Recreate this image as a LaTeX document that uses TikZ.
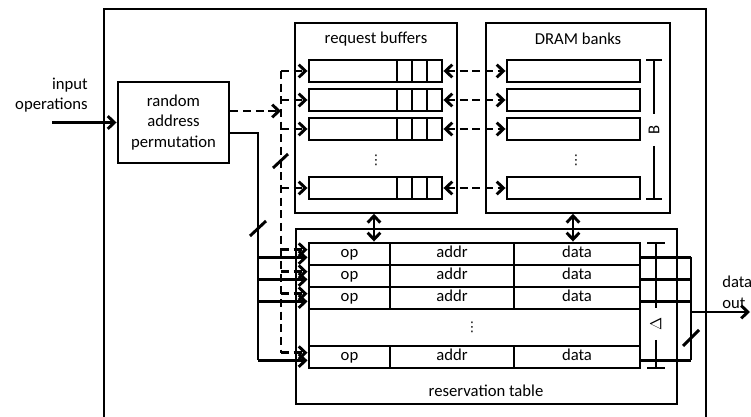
\documentclass[tikz,border=0pt]{standalone}
\usepackage{fontspec}
\setmainfont{Carlito}
\newfontfamily\symfont{DejaVu Sans}
\usetikzlibrary{arrows.meta,fit}

\begin{document}
\begin{tikzpicture}[x=0.75pt,y=-0.75pt,
  thinline/.style={line width=1.2pt},
  heavy/.style={line width=2.2pt},
  box/.style={draw, thinline, inner sep=0pt},
  cellbox/.style={draw, heavy, inner sep=0pt},
  txt/.style={font=\fontsize{12.5}{15.5}\selectfont, inner sep=0pt},
  dots/.style={font=\symfont\fontsize{10}{12}\selectfont, inner sep=0pt},
  celltxt/.style={txt, text height=8.5pt, text depth=2.5pt},
  tip/.tip={Straight Barb[length=5pt,width=9.5pt]},
  arr/.style={heavy, -tip},
  darr/.style={heavy, -tip, dash pattern=on 6pt off 3.5pt},
  ddarr/.style={heavy, tip-tip, dash pattern=on 6pt off 3.5pt},
  biarr/.style={heavy, tip-tip},
  slash/.style={heavy},
]
\useasboundingbox (0,0) rectangle (751,417);

% frame of the whole system (open at the bottom of the page)
\node[box, fit={(104,9)(706,440)}] (outer) {};

% input stage
\node[cellbox, fit={(118,82)(229,163)}] (perm) {};
\node[txt, align=center] at (perm.center) {random\\address\\permutation};
\node[txt, align=right, anchor=east] (inlabel) at (88,95) {input\\operations};
\coordinate (in) at (52,122.5);
\draw[arr] (in) -- (perm.west);

% containers
\node[box, fit={(295,23)(457,213)}] (rb) {};
\node[box, fit={(486,23)(670,213)}] (dram) {};
\node[box, fit={(296,229)(677,404)}] (rt) {};
\node[txt] at (376,39) {request buffers};
\node[txt] at (578,39) {DRAM banks};
\node[txt] at (486,391) {reservation table};

% request buffers and DRAM banks
\foreach \i/\yc in {1/71,2/100,3/129,4/188} {
  \node[cellbox, fit={(309,\yc-11)(442,\yc+11)}] (buf\i) {};
  \foreach \x in {397,412,427}
    \draw[heavy] (\x,\yc-11) -- (\x,\yc+11);
  \node[cellbox, fit={(507,\yc-11)(640,\yc+11)}] (bank\i) {};
  \draw[ddarr] (buf\i.east) -- (bank\i.west);
}
\node[dots] at (376,160) {⋮};
\node[dots] at (576,160) {⋮};

% bracket for the bank count
\draw[heavy] (654,60) -- (654,114) (654,146) -- (654,199)
  (646,60) -- (662,60) (646,199) -- (662,199);
\node[txt, rotate=90] at (654,130) {B};

% reservation table
\node[cellbox, fit={(309,243)(640,368)}] (tab) {};
\foreach \i/\ya/\yb in {1/243/265,2/265/287,3/287/309,4/346/368} {
  \node[cellbox, fit={(309,\ya)(640,\yb)}] (row\i) {};
  \draw[heavy] (390,\ya) -- (390,\yb) (514,\ya) -- (514,\yb);
  \node[celltxt] at (349.5,{(\ya+\yb)/2}) {op};
  \node[celltxt] at (452,{(\ya+\yb)/2}) {addr};
  \node[celltxt] at (577,{(\ya+\yb)/2}) {data};
  \coordinate (rowd\i) at ([yshift=3.2pt]row\i.west);
  \coordinate (rows\i) at ([yshift=-2.6pt]row\i.west);
}
\node[dots] at (472,327) {⋮};

% bracket for the table depth
\draw[heavy] (656,243) -- (656,308) (656,340) -- (656,368)
  (647,243) -- (665,243) (647,368) -- (665,368);
\node[txt, rotate=90] at (656,324) {$\Delta$};

% links between the blocks
\coordinate (rbx) at (374,0);
\coordinate (drx) at (573,0);
\draw[biarr] (rbx |- rb.south) -- (rbx |- tab.north);
\draw[biarr] (drx |- dram.south) -- (drx |- tab.north);

% dashed request bus
\coordinate (dx) at (281,0);
\draw[darr] (perm.east |- 0,111) -- (dx |- 0,111);
\draw[heavy, dash pattern=on 6pt off 3.5pt] (dx |- buf1.west) -- (dx |- rowd4);
\foreach \i in {1,...,4}
  \draw[darr] (dx |- buf\i.west) -- (buf\i.west);
\foreach \i in {1,...,4}
  \draw[darr] (dx |- rowd\i) -- (rowd\i);
\draw[slash] (273,168) -- (288,154);

% solid operation bus
\coordinate (sx) at (258,0);
\draw[heavy] (perm.east |- 0,133) -| (sx |- rows4);
\foreach \i in {1,...,4}
  \draw[arr] (sx |- rows\i) -- (rows\i);
\draw[slash] (250,236) -- (266,221);

% data output
\coordinate (ox) at (691,0);
\foreach \i in {1,...,4}
  \draw[heavy] (row\i.east |- rows\i) -- (ox |- rows\i);
\draw[heavy] (ox |- rows1) -- (ox |- rows4);
\coordinate (outend) at (750,312);
\draw[arr] (ox |- outend) -- (outend);
\draw[slash] (683,346) -- (699,330);
\node[txt, align=left, anchor=west] (outlabel) at (722,292) {data\\out};
\end{tikzpicture}
\end{document}
